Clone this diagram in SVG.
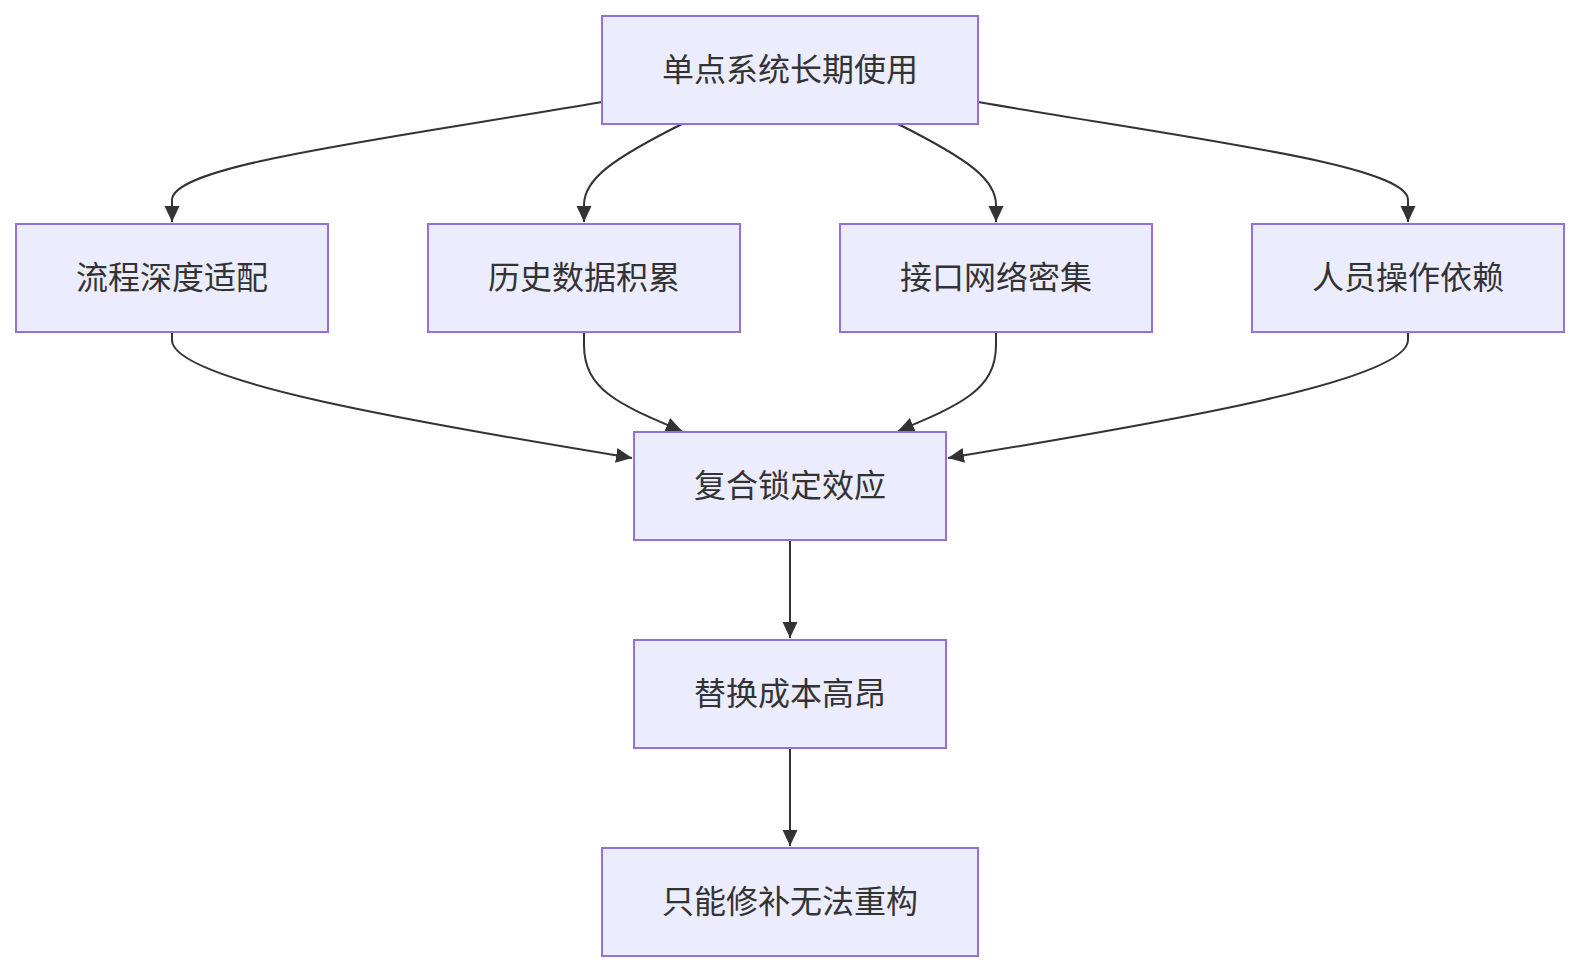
<svg xmlns="http://www.w3.org/2000/svg" width="1580" height="972" viewBox="0 0 1580 972">
<style>
.node rect{fill:#ECECFF;stroke:#9370DB;stroke-width:2}
.node text{font-family:"Liberation Sans","Noto Sans CJK SC",sans-serif;font-size:32px;fill:#333;text-anchor:middle;dominant-baseline:central}
.edges path{fill:none;stroke:#333;stroke-width:2}
</style>
<defs>
<marker id="arr" markerUnits="userSpaceOnUse" markerWidth="18" markerHeight="18" viewBox="0 0 18 18" refX="16" refY="9" orient="auto">
<path d="M0,1.5 L16,9 L0,16.5 z" fill="#333"/>
</marker>
</defs>
<rect width="1580" height="972" fill="#fff"/>
<g class="edges">
<path d="M602,102 C380,140 172,165 172,200 L172,222" marker-end="url(#arr)"/>
<path d="M682,124 C610,160 584,180 584,205 L584,222" marker-end="url(#arr)"/>
<path d="M898,124 C970,160 996,180 996,205 L996,222" marker-end="url(#arr)"/>
<path d="M978,102 C1200,140 1408,165 1408,200 L1408,222" marker-end="url(#arr)"/>
<path d="M172,332 L172,340 C172,380 400,420 632,458" marker-end="url(#arr)"/>
<path d="M584,332 L584,345 C584,390 620,405 682,431" marker-end="url(#arr)"/>
<path d="M996,332 L996,345 C996,390 960,405 898,431" marker-end="url(#arr)"/>
<path d="M1408,332 L1408,340 C1408,380 1180,420 948,458" marker-end="url(#arr)"/>
<path d="M790,540 L790,638" marker-end="url(#arr)"/>
<path d="M790,748 L790,846" marker-end="url(#arr)"/>
</g>
<g id="A" class="node"><rect x="602" y="16" width="376" height="108"/><text x="790" y="70">单点系统长期使用</text></g>
<g id="B1" class="node"><rect x="16" y="224" width="312" height="108"/><text x="172" y="278">流程深度适配</text></g>
<g id="B2" class="node"><rect x="428" y="224" width="312" height="108"/><text x="584" y="278">历史数据积累</text></g>
<g id="B3" class="node"><rect x="840" y="224" width="312" height="108"/><text x="996" y="278">接口网络密集</text></g>
<g id="B4" class="node"><rect x="1252" y="224" width="312" height="108"/><text x="1408" y="278">人员操作依赖</text></g>
<g id="C" class="node"><rect x="634" y="432" width="312" height="108"/><text x="790" y="486">复合锁定效应</text></g>
<g id="D" class="node"><rect x="634" y="640" width="312" height="108"/><text x="790" y="694">替换成本高昂</text></g>
<g id="E" class="node"><rect x="602" y="848" width="376" height="108"/><text x="790" y="902">只能修补无法重构</text></g>
</svg>
